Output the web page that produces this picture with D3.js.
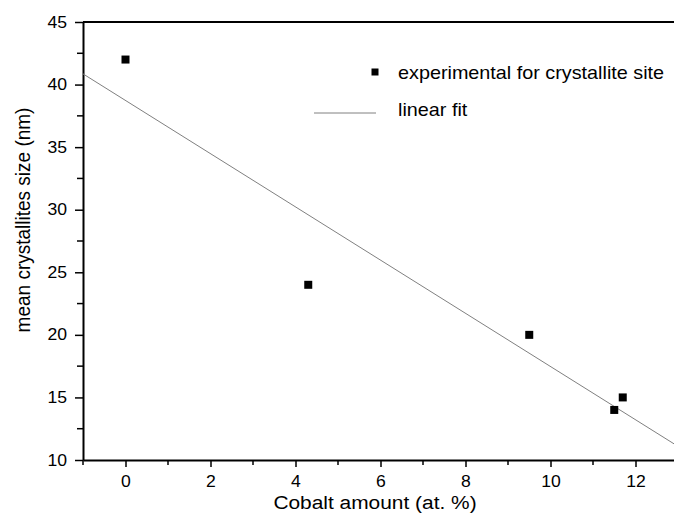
<!DOCTYPE html>
<html><head><meta charset="utf-8">
<script src="https://cdn.jsdelivr.net/npm/d3@7"></script>
<style>body{margin:0;background:#fff}svg{display:block}text{font-family:"Liberation Sans",Arial,sans-serif;fill:#000}</style>
</head><body>
<script>
const cobalt = [0, 4.3, 9.5, 11.5, 11.7];
const sizes = [42, 24, 20, 14, 15];
const fitX = [-1, 13];
const fitIntercept = 38.73;
const fitSlope = -2.126;
const xTicks = [0, 2, 4, 6, 8, 10, 12];
const yTicks = [10, 15, 20, 25, 30, 35, 40, 45];
const legendLabels = ["experimental for crystallite site", "linear fit"];

const W = 674, H = 516;
const L = 83, T = 22, B = 460;
const SX = 1.1; // horizontal stretch of text in the reference
const x = d3.scaleLinear().domain([-1, 13]).range([L, L + 14 * 42.5]);
const y = d3.scaleLinear().domain([10, 45]).range([B, T]);

const svg = d3.select("body").append("svg").attr("width", W).attr("height", H);

function stretched(sel, tx, ty) {
  return sel.attr("x", 0).attr("y", 0).attr("transform", `translate(${tx},${ty}) scale(${SX},1)`);
}

// top frame line
svg.append("line").attr("x1", L).attr("x2", x(13)).attr("y1", T).attr("y2", T)
  .attr("stroke", "#000").attr("stroke-width", 2);

// x axis
const xMinor = d3.range(-1, 13.01, 1).filter(v => v % 2 !== 0);
const xAx = svg.append("g").attr("transform", `translate(0,${B})`)
  .call(d3.axisBottom(x).tickValues(xTicks).tickSize(7).tickSizeOuter(0));
xAx.select(".domain").attr("stroke-width", 2);
xAx.selectAll(".tick line").attr("stroke-width", 1.5);
xAx.selectAll(".tick text").attr("font-size", 16).attr("font-family", "Liberation Sans, Arial, sans-serif")
  .attr("dy", null).attr("x", 0).attr("y", 0).attr("transform", `translate(0,27) scale(${SX},1)`);
xAx.selectAll(".minor").data(xMinor).enter().append("line")
  .attr("x1", d => x(d)).attr("x2", d => x(d)).attr("y1", 0).attr("y2", 5)
  .attr("stroke", "#000").attr("stroke-width", 1.5);

// y axis
const yMinor = d3.range(12.5, 45, 5);
const yAx = svg.append("g").attr("transform", `translate(${L},0)`)
  .call(d3.axisLeft(y).tickValues(yTicks).tickSize(8).tickSizeOuter(0));
yAx.select(".domain").attr("stroke-width", 2);
yAx.selectAll(".tick line").attr("stroke-width", 1.5);
yAx.selectAll(".tick text").attr("font-size", 16).attr("font-family", "Liberation Sans, Arial, sans-serif")
  .attr("x", 0).attr("transform", `translate(-16,0) scale(${SX},1)`);
yAx.selectAll(".minor").data(yMinor).enter().append("line")
  .attr("x1", 0).attr("x2", -6).attr("y1", d => y(d)).attr("y2", d => y(d))
  .attr("stroke", "#000").attr("stroke-width", 1.5);

// fit line
svg.append("clipPath").attr("id", "c").append("rect")
  .attr("x", L).attr("y", T).attr("width", W - L).attr("height", B - T);
svg.append("line").attr("clip-path", "url(#c)")
  .attr("x1", x(fitX[0])).attr("y1", y(fitIntercept + fitSlope * fitX[0]))
  .attr("x2", x(fitX[1])).attr("y2", y(fitIntercept + fitSlope * fitX[1]))
  .attr("stroke", "#808080").attr("stroke-width", 1);

// points
const s = 8;
svg.selectAll(".pt").data(cobalt).enter().append("rect")
  .attr("x", (d) => x(d) - s / 2).attr("y", (d, i) => y(sizes[i]) - s / 2)
  .attr("width", s).attr("height", s).attr("fill", "#000");

// legend
svg.append("rect").attr("x", 371.5).attr("y", 68.5).attr("width", 7).attr("height", 7).attr("fill", "#000");
stretched(svg.append("text").attr("font-size", 18).text(legendLabels[0]), 398, 79);
svg.append("line").attr("x1", 314).attr("x2", 376).attr("y1", 113).attr("y2", 113)
  .attr("stroke", "#808080").attr("stroke-width", 1);
stretched(svg.append("text").attr("font-size", 18).text(legendLabels[1]), 398, 116);

// axis titles
stretched(svg.append("text").attr("text-anchor", "middle").attr("font-size", 19)
  .text("Cobalt amount (at. %)"), 375, 509);
svg.append("text").attr("transform", `translate(30,220) rotate(-90) scale(1,${SX})`)
  .attr("text-anchor", "middle").attr("font-size", 19).text("mean crystallites size (nm)");
</script>
</body></html>
